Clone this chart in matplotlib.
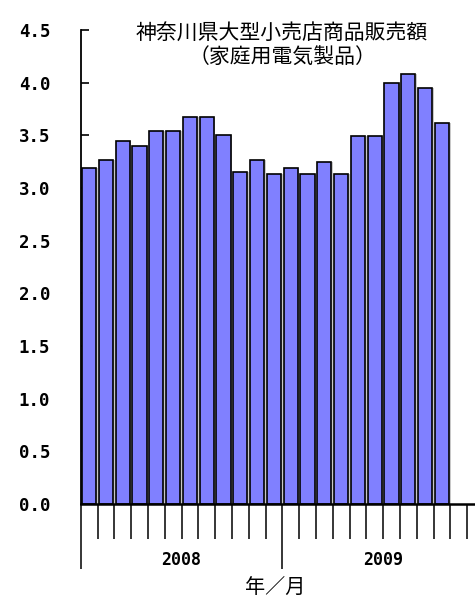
import matplotlib
matplotlib.use("Agg")
import matplotlib.pyplot as plt
import numpy as np

# 神奈川県大型小売店 家庭用電気製品 販売額 (2008/1 - 2009/10)
months = list(range(1, 13)) + list(range(1, 11))
values = [3.19, 3.27, 3.45, 3.40, 3.54, 3.54, 3.67, 3.67, 3.50, 3.15, 3.27, 3.13,
          3.19, 3.13, 3.25, 3.13, 3.49, 3.49, 4.00, 4.08, 3.95, 3.62]
years = ["2008", "2009"]
yticks = [0.0, 0.5, 1.0, 1.5, 2.0, 2.5, 3.0, 3.5, 4.0, 4.5]

jp = ["Noto Sans CJK JP", "DejaVu Sans"]

fig = plt.figure(figsize=(4.75, 5.97), dpi=100)
ax = fig.add_axes([0.170, 0.1558, 0.830, 0.7939])

x = np.arange(len(values)) + 0.5
# light grey shadow on the right side of each bar
ax.bar(x + 0.09, values, width=0.85, color="#c8c8c8", zorder=1)
ax.bar(x, values, width=0.85, color="#8080ff", edgecolor="black",
       linewidth=1.2, zorder=2)

ax.set_xlim(0, 23.47)
ax.set_ylim(0, 4.5)

for s in ["top", "right"]:
    ax.spines[s].set_visible(False)
ax.spines["bottom"].set_linewidth(1.8)
ax.spines["left"].set_linewidth(1.3)
ax.spines["bottom"].set_zorder(3)

ax.set_yticks(yticks)
ax.set_yticklabels([f"{v:.1f}" for v in yticks], family="DejaVu Sans Mono",
                   fontsize=12.5, fontweight="bold")
ax.tick_params(axis="y", direction="in", length=6, width=1.2, pad=22)

# month separators: short ticks, year separators: long ticks
ax.set_xticks([0, 12])
ax.set_xticklabels([])
ax.set_xticks([i for i in range(1, 24) if i != 12], minor=True)
ax.tick_params(axis="x", which="major", direction="out", length=47, width=1.1)
ax.tick_params(axis="x", which="minor", direction="out", length=25, width=1.1)

for i, yr in enumerate(years):
    ax.text(6 + 12 * i, -0.53, yr, ha="center", va="center",
            family="DejaVu Sans Mono", fontweight="bold", fontsize=12)

fig.text(0.579, 1 - 587 / 597, "年／月", ha="center", va="center", family=jp,
         fontsize=14.5)

fig.text(0.594, 0.945, "神奈川県大型小売店商品販売額", ha="center", va="center",
         family=jp, fontsize=15)
fig.text(0.594, 0.903, "（家庭用電気製品）", ha="center", va="center",
         family=jp, fontsize=15)

fig.savefig("out.png", dpi=100)
